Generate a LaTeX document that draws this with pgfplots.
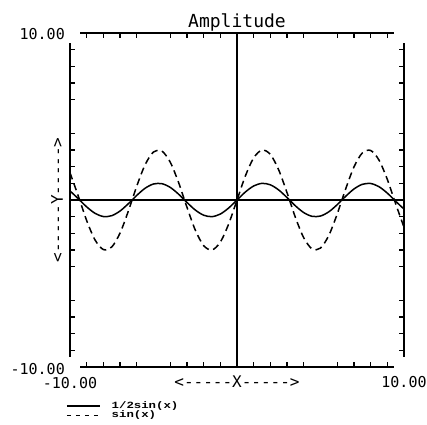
\documentclass[border=0pt]{standalone}
\usepackage{pgfplots}
\pgfplotsset{compat=1.18}
\usepackage{pgfplotstable}
\usepackage{fontspec}
\setmainfont{DejaVu Sans Mono}
\newfontfamily\legfont{Liberation Mono}
\pgfplotstableread{
x s1 s3
-10 0.544 1.632
-9.5 0.075 0.226
-9 -0.412 -1.236
-8.5 -0.798 -2.394
-8 -0.989 -2.968
-7.5 -0.938 -2.814
-7 -0.657 -1.971
-6.5 -0.215 -0.645
-6 0.279 0.838
-5.5 0.706 2.117
-5 0.959 2.877
-4.5 0.978 2.933
-4 0.757 2.270
-3.5 0.351 1.052
-3 -0.141 -0.423
-2.5 -0.598 -1.795
-2 -0.909 -2.728
-1.5 -0.997 -2.992
-1 -0.841 -2.524
-0.5 -0.479 -1.438
0 0 0
0.5 0.479 1.438
1 0.841 2.524
1.5 0.997 2.992
2 0.909 2.728
2.5 0.598 1.795
3 0.141 0.423
3.5 -0.351 -1.052
4 -0.757 -2.270
4.5 -0.978 -2.933
5 -0.959 -2.877
5.5 -0.706 -2.117
6 -0.279 -0.838
6.5 0.215 0.645
7 0.657 1.971
7.5 0.938 2.814
8 0.989 2.968
8.5 0.798 2.394
9 0.412 1.236
9.5 -0.075 -0.226
10 -0.544 -1.632
}\datatable
\newcommand{\arrlabel}[1]{\char"3C{}-{}-{}-{}-{}-#1-{}-{}-{}-{}-\char"3E{}}
\begin{document}
\begin{tikzpicture}
\begin{axis}[
  at={(70pt,57pt)}, anchor=south west,
  width=334pt, height=334pt, scale only axis,
  xmin=-10, xmax=10, ymin=-10, ymax=10,
  hide axis, clip=false,
  legend style={at={(rel axis cs:-0.012,-0.106)}, anchor=north west,
    draw=none, fill=none, font=\legfont\bfseries\fontsize{9.5}{9.5}\selectfont,
    row sep=3pt, inner sep=0pt,
    nodes={inner sep=0pt, anchor=west, text height=5.5pt, text depth=1pt},
    /tikz/every odd column/.append style={column sep=11pt}},
  legend cell align=left,
  legend image code/.code={\draw[#1] (0pt,0pt) -- (33pt,0pt);},
]
\addplot[black, line width=1.5pt, smooth] table[x=x, y=s1] {\datatable};
\addlegendentry{\scalebox{1.3}[1]{1/2sin(x)}}
\addplot[black, line width=1.5pt, smooth, dash pattern=on 7pt off 4.5pt,
  legend image post style={line width=1.5pt, dash pattern=on 4pt off 5pt}] table[x=x, y=s3] {\datatable};
\addlegendentry{\scalebox{1.3}[1]{sin(x)}}
% frame segments
\draw[line width=1.7pt] (axis cs:-9.4,10) -- (axis cs:9.4,10);
\draw[line width=1.7pt] (axis cs:-9.4,-10) -- (axis cs:9.4,-10);
\draw[line width=1.7pt] (axis cs:-10,-9.4) -- (axis cs:-10,9.4);
\draw[line width=1.7pt] (axis cs:10,-9.4) -- (axis cs:10,9.4);
\draw[line width=1.3pt] (axis cs:0,-10) -- (axis cs:0,10);
\draw[line width=1.3pt] (axis cs:-10,0) -- (axis cs:10,0);
\pgfplotsinvokeforeach{-9,-8,-7,-6,-4,-3,-2,-1,1,2,3,4,6,7,8,9}{
  \draw[line width=1.3pt] (axis cs:#1,10) -- ([yshift=-5pt]axis cs:#1,10);
  \draw[line width=1.3pt] (axis cs:#1,-10) -- ([yshift=5pt]axis cs:#1,-10);
  \draw[line width=1.3pt] (axis cs:-10,#1) -- ([xshift=5pt]axis cs:-10,#1);
  \draw[line width=1.3pt] (axis cs:10,#1) -- ([xshift=-5pt]axis cs:10,#1);
}
\node[anchor=east, font=\fontsize{15}{15}\selectfont, inner sep=0pt] at ([xshift=-5pt,yshift=-1pt]axis cs:-10,10) {10.00};
\node[anchor=east, font=\fontsize{15}{15}\selectfont, inner sep=0pt] at ([xshift=-5pt,yshift=-2pt]axis cs:-10,-10) {-10.00};
\node[font=\fontsize{15}{15}\selectfont, inner sep=0pt] at ([yshift=-16pt]axis cs:-10,-10) {-10.00};
\node[font=\fontsize{15}{15}\selectfont, inner sep=0pt] at ([yshift=-15pt]axis cs:10,-10) {10.00};
\node[font=\fontsize{16}{16}\selectfont, inner sep=0pt] at ([yshift=-15pt]axis cs:0,-10) {\arrlabel{X}};
\node[font=\fontsize{18}{18}\selectfont, inner sep=0pt, anchor=base] at ([yshift=6pt]axis cs:0,10) {Amplitude};
\node[font=\fontsize{16}{16}\selectfont, inner sep=0pt, rotate=90] at ([xshift=-13pt]axis cs:-10,0) {\arrlabel{Y}};
\end{axis}
\path[use as bounding box] (0,0) rectangle (427pt,424pt);
\end{tikzpicture}
\end{document}
